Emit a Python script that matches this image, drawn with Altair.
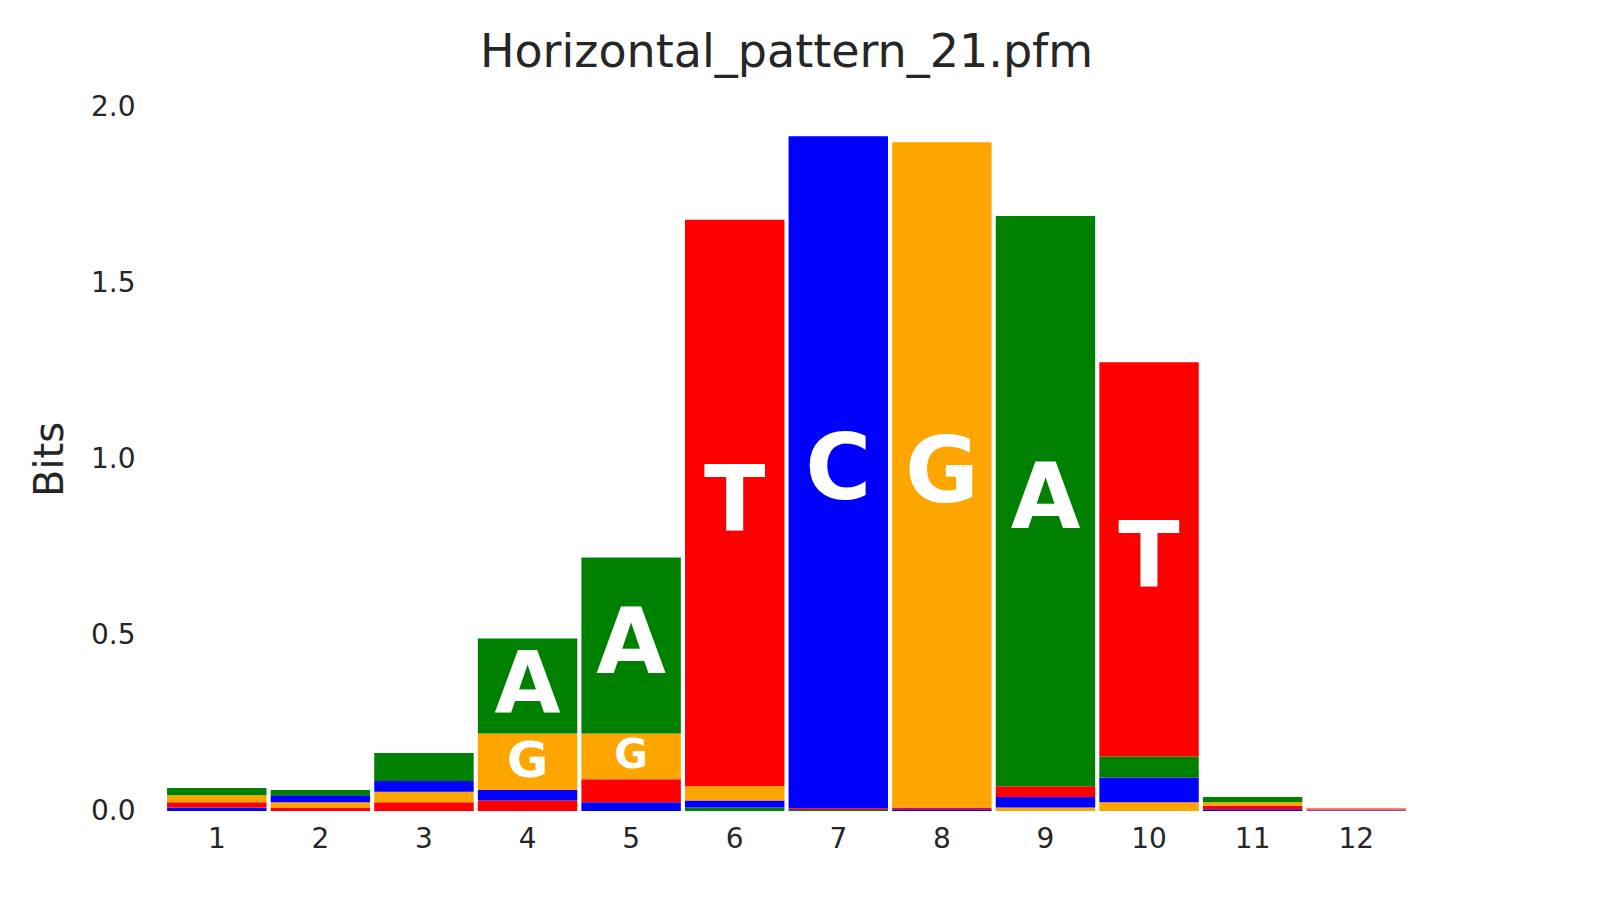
import altair as alt
import pandas as pd

positions = list(range(1, 13))
# bottom-to-top letters and heights (bits) per position
stacks = [
    [("C", 0.01), ("T", 0.015), ("G", 0.02), ("A", 0.02)],
    [("T", 0.01), ("G", 0.015), ("C", 0.02), ("A", 0.015)],
    [("T", 0.025), ("G", 0.03), ("C", 0.03), ("A", 0.08)],
    [("T", 0.03), ("C", 0.03), ("G", 0.16), ("A", 0.27)],
    [("C", 0.025), ("T", 0.065), ("G", 0.13), ("A", 0.5)],
    [("A", 0.01), ("C", 0.02), ("G", 0.04), ("T", 1.61)],
    [("A", 0.003), ("T", 0.004), ("C", 1.91)],
    [("C", 0.005), ("T", 0.005), ("G", 1.89)],
    [("G", 0.01), ("C", 0.03), ("T", 0.03), ("A", 1.62)],
    [("G", 0.025), ("C", 0.07), ("A", 0.06), ("T", 1.12)],
    [("C", 0.005), ("T", 0.01), ("G", 0.01), ("A", 0.015)],
    [("C", 0.002), ("G", 0.002), ("T", 0.003)],
]

rows = []
for p, st in zip(positions, stacks):
    base = 0.0
    for letter, h in st:
        rows.append({"pos": p, "letter": letter, "y0": base, "y1": base + h,
                     "mid": base + h / 2, "h": h,
                     "fs": min(90, h * 333 * 0.95)})
        base += h
df = pd.DataFrame(rows)

color = alt.Color("letter:N", legend=None,
                  scale=alt.Scale(domain=["A", "C", "G", "T"],
                                  range=["green", "blue", "orange", "red"]))
x = alt.X("pos:O", title=None,
          axis=alt.Axis(labelAngle=0, labelFontSize=28, ticks=False, domain=False,
                        labelPadding=14, labelColor="#262626"),
          scale=alt.Scale(paddingInner=0.04, paddingOuter=0.02))

bars = alt.Chart(df).mark_bar().encode(
    x=x,
    y=alt.Y("y0:Q", title="Bits", scale=alt.Scale(domain=[0, 2]),
            axis=alt.Axis(values=[0, 0.5, 1.0, 1.5, 2.0], format=".1f", grid=False,
                          domain=False, ticks=False, labelFontSize=28, titleFontSize=40,
                          titleFontWeight="normal", labelColor="#262626",
                          titleColor="#262626", labelPadding=30, titlePadding=20)),
    y2="y1:Q",
    color=color,
)
texts = alt.Chart(df[df.h > 0.12]).mark_text(color="white", fontWeight="bold",
                                             baseline="middle", font="DejaVu Sans").encode(
    x=x, y="mid:Q", text="letter:N", size=alt.Size("fs:Q", scale=None))

chart = (bars + texts).properties(
    width=1400, height=845,
    padding={"left": 22, "top": 22, "right": 0, "bottom": 0},
    autosize=alt.AutoSizeParams(type="fit", contains="padding"),
    title=alt.TitleParams("Horizontal_pattern_21.pfm", fontSize=46, fontWeight="normal",
                          color="#262626", font="DejaVu Sans", offset=16),
).configure_view(stroke=None).configure_axis(labelFont="DejaVu Sans", titleFont="DejaVu Sans")

chart.save("out.html", embed_options={"renderer": "svg", "actions": False})
